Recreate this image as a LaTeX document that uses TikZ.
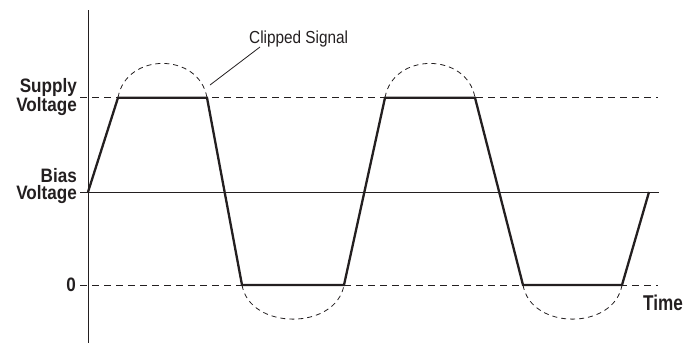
\documentclass[tikz,border=0pt]{standalone}
\usepackage{fontspec}
\newfontfamily\labelfont[FakeStretch=0.88]{Liberation Sans}
\newfontfamily\timefont[FakeStretch=0.8]{Liberation Sans}
\definecolor{ink}{HTML}{231F20}

\begin{document}
\begin{tikzpicture}[
        x=1bp, y=-1bp,
        axis/.style={line width=0.8bp, draw=ink},
        guide/.style={line width=0.9bp, draw=ink, dash pattern=on 7bp off 5bp},
        ideal/.style={line width=0.8bp, draw=ink, dash pattern=on 5bp off 4bp},
        clipped/.style={line width=2.3bp, draw=ink},
        lbl/.style={
            font=\labelfont\bfseries\fontsize{19.5}{17.5}\selectfont,
            text=ink,
            inner sep=0pt,
            align=right
        },
        note/.style={
            font=\labelfont\fontsize{17.5}{18}\selectfont,
            text=ink,
            inner sep=0pt
        }
    ]

    \useasboundingbox (0,0) rectangle (696,346);

    % axis and level lines
    \coordinate (axTop) at (88,10);
    \coordinate (axBot) at (88,343);
    \draw[axis] (axTop)--(axBot);

    \coordinate (supA) at (80,97.7);
    \coordinate (supB) at (658,97.7);
    \coordinate (biaA) at (80,192);
    \coordinate (biaB) at (659,192);
    \coordinate (zerA) at (80,285);
    \coordinate (zerB) at (658,285);

    \draw[guide] (supA)--(supB);
    \draw[axis] (biaA)--(biaB);
    \draw[guide] (zerA)--(zerB);

    % labels
    \node[lbl, anchor=east] (supplyL) at (77,97) {Supply\\Voltage};
    \node[lbl, anchor=east] (biasL) at (77,186) {Bias\\Voltage};
    \node[lbl, anchor=east] (zeroL) at (76,285) {0};
    \node[lbl, anchor=base west, font=\timefont\bfseries\fontsize{21.5}{20}\selectfont]
        (timeL) at (643,310) {Time};

    % clipped waveform corners
    \coordinate (w0) at (88,192);
    \coordinate (w1) at (118,97.7);
    \coordinate (w2) at (207,97.7);
    \coordinate (w3) at (242,285);
    \coordinate (w4) at (344,285);
    \coordinate (w5) at (385,97.7);
    \coordinate (w6) at (475,97.7);
    \coordinate (w7) at (523,285);
    \coordinate (w8) at (622,285);
    \coordinate (w9) at (649,192);

    % unclipped signal
    \draw[ideal] (w1) .. controls (126,52) and (199,52) .. (w2);
    \draw[ideal] (w3) .. controls (250,330.5) and (336,330.5) .. (w4);
    \draw[ideal] (w5) .. controls (393,52) and (467,52) .. (w6);
    \draw[ideal] (w7) .. controls (531,330.5) and (614,330.5) .. (w8);

    \draw[clipped] (w0)--(w1)--(w2)--(w3)--(w4)--(w5)--(w6)--(w7)--(w8)--(w9);

    \node[note, anchor=base west] (clipL) at (249,43.3) {Clipped Signal};
    \coordinate (clipFrom) at (260,47);
    \coordinate (clipTo) at (210,85);
    \draw[axis] (clipFrom)--(clipTo);

\end{tikzpicture}
\end{document}
